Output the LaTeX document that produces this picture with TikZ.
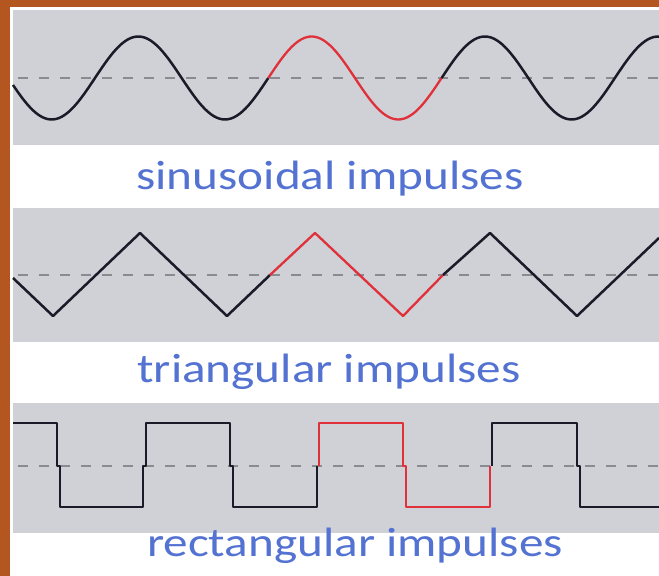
\documentclass[tikz,border=0pt]{standalone}
\usepackage{fontspec}
\setmainfont{Carlito}
\definecolor{framebrown}{HTML}{B4561F}
\definecolor{panelgray}{HTML}{CFD1D6}
\definecolor{impblue}{HTML}{5372D2}
\definecolor{midgray}{HTML}{8A8B90}
\definecolor{hotred}{HTML}{E0303A}
\definecolor{wavedark}{HTML}{1A1A28}
\tikzset{
  wave/.style={line width=1.25pt, wavedark, line join=round},
  hot/.style={line width=1.15pt, hotred, line join=round},
  axis/.style={line width=1pt, midgray, dash pattern=on 5pt off 5.5pt},
  label/.style={anchor=base, text=impblue, inner sep=0pt, font=\fontsize{20.5}{24}\selectfont}
}

\begin{document}
\begin{tikzpicture}[x=0.5pt, y=-0.5pt]
        \useasboundingbox (0,0) rectangle (659,576);
        \fill[white] (0,0) rectangle (659,576);
        \fill[framebrown] (0,0) rectangle (10,576);
        \fill[framebrown] (0,0) rectangle (659,7);
        \fill[panelgray] (13,10) rectangle (659,145);
        \fill[panelgray] (13,208) rectangle (659,342);
        \fill[panelgray] (13,403) rectangle (659,533);
        \draw[axis] (18,78) -- (659,78);
        \draw[axis] (18,275) -- (659,275);
        \draw[axis] (18,466) -- (659,466);
        \draw[wave] plot[domain=13:268.3, samples=90, smooth] (\x,{78-41.5*sin((\x-95)/173.3*360)});
        \draw[hot] plot[domain=268.3:441.6, samples=60, smooth] (\x,{78-41.5*sin((\x-95)/173.3*360)});
        \draw[wave] plot[domain=441.6:659, samples=80, smooth] (\x,{78-41.5*sin((\x-95)/173.3*360)});
        \draw[wave] (13,278) -- (53,316) -- (140,233) -- (227,316) -- (270,275);
        \draw[hot] (270,275) -- (315,233) -- (403,316) -- (443,275);
        \draw[wave] (443,275) -- (490,233) -- (577,316) -- (659,238);
        \draw[wave] (13,423) -- (57,423) -- (57,466) -- (60,466) -- (60,507) -- (143,507) -- (143,466)
          -- (146,466) -- (146,423) -- (230,423) -- (230,466) -- (233,466) -- (233,507) -- (317,507) -- (317,466);
        \draw[hot] (319,466) -- (319,423) -- (403,423) -- (403,466) -- (406,466) -- (406,507) -- (490,507) -- (490,466);
        \draw[wave] (492,466) -- (492,423) -- (577,423) -- (577,466) -- (580,466) -- (580,507) -- (659,507);
        \node[label] (sinus) at (330,190) {\scalebox{1.2}[1]{sinusoidal impulses}};
        \node[label] (triang) at (329,383) {\scalebox{1.2}[1]{triangular impulses}};
        \node[label] (rect) at (355,557) {\scalebox{1.2}[1]{rectangular impulses}};
      \end{tikzpicture}
\end{document}
